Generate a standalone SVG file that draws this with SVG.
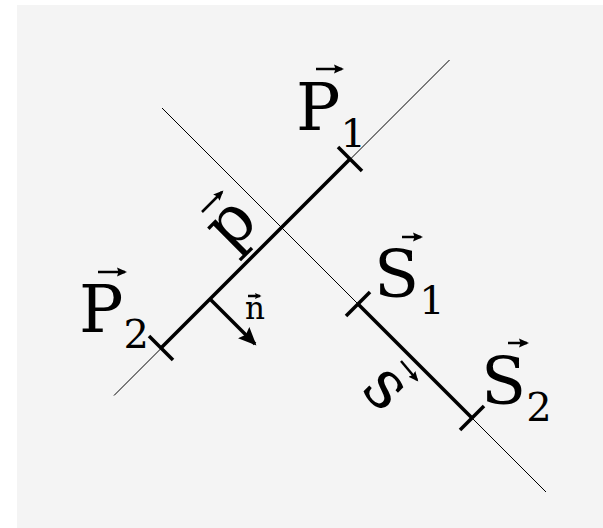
<svg xmlns="http://www.w3.org/2000/svg" width="603" height="528" viewBox="0 0 603 528">
<style>
.thin{stroke:#000;stroke-width:1;fill:none}
.thick{stroke:#000;stroke-width:3.5;fill:none}
.tick{stroke:#000;stroke-width:3.5;fill:none}
.vec{stroke:#000;stroke-width:2.5;fill:none}
.lbl{font-family:"DejaVu Serif","Liberation Serif",serif;fill:#000}
</style>
<defs>
<marker id="ah" markerUnits="userSpaceOnUse" markerWidth="20" markerHeight="16" refX="16" refY="8" orient="auto">
<path d="M0,0 L18,8 L0,16 L3,8 Z" fill="#000"/>
</marker>
<marker id="sa" markerUnits="userSpaceOnUse" markerWidth="11" markerHeight="10" refX="8" refY="5" orient="auto">
<path d="M0,0.5 L10,5 L0,9.5 L1.5,5 Z" fill="#000"/>
</marker>
<marker id="sn" markerUnits="userSpaceOnUse" markerWidth="7" markerHeight="7" refX="5" refY="3.5" orient="auto">
<path d="M0,0.5 L6.5,3.5 L0,6.5 L1,3.5 Z" fill="#000"/>
</marker>
</defs>
<rect x="17" y="5" width="586" height="523" fill="#f4f4f4"/>
<g id="connectors">
<line class="thin" x1="114" y1="395.5" x2="449.5" y2="60"/>
<line class="thin" x1="162" y1="108" x2="546" y2="492"/>
<line class="thick" x1="350" y1="159" x2="161" y2="348"/>
<line class="thick" x1="358" y1="304" x2="472" y2="418"/>
<line class="thick" x1="210" y1="299" x2="255" y2="344" marker-end="url(#ah)"/>
</g>
<g id="P1">
<line class="tick" x1="338" y1="147" x2="362" y2="171"/>
<text class="lbl" x="296" y="130" font-size="66">P<tspan font-size="40" dy="17">1</tspan></text>
<line class="vec" x1="316" y1="69" x2="342" y2="69" marker-end="url(#sa)"/>
</g>
<g id="P2">
<line class="tick" x1="149" y1="336" x2="173" y2="360"/>
<text class="lbl" x="79" y="332" font-size="66">P<tspan font-size="40" dy="16">2</tspan></text>
<line class="vec" x1="98" y1="272" x2="125" y2="272" marker-end="url(#sa)"/>
</g>
<g id="S1">
<line class="tick" x1="346" y1="316" x2="370" y2="292"/>
<text class="lbl" x="374" y="297" font-size="66">S<tspan font-size="40" dy="17">1</tspan></text>
<line class="vec" x1="402" y1="237" x2="421" y2="237" marker-end="url(#sa)"/>
</g>
<g id="S2">
<line class="tick" x1="460" y1="430" x2="484" y2="406"/>
<text class="lbl" x="481" y="404" font-size="66">S<tspan font-size="40" dy="17">2</tspan></text>
<line class="vec" x1="508" y1="343" x2="527" y2="343" marker-end="url(#sa)"/>
</g>
<g id="p">
<text class="lbl" font-size="66" transform="translate(230,253) rotate(-45)">p</text>
<line class="vec" x1="202" y1="212" x2="222" y2="192" marker-end="url(#sa)"/>
</g>
<g id="s">
<text class="lbl" font-size="67" transform="translate(359.5,390) rotate(45)">s</text>
<line class="vec" x1="401" y1="361" x2="417" y2="380" marker-end="url(#sa)"/>
</g>
<g id="n">
<text class="lbl" x="245" y="319" font-size="31">n</text>
<line class="vec" x1="248" y1="296" x2="260" y2="296" stroke-width="1.5" marker-end="url(#sn)"/>
</g>
</svg>
